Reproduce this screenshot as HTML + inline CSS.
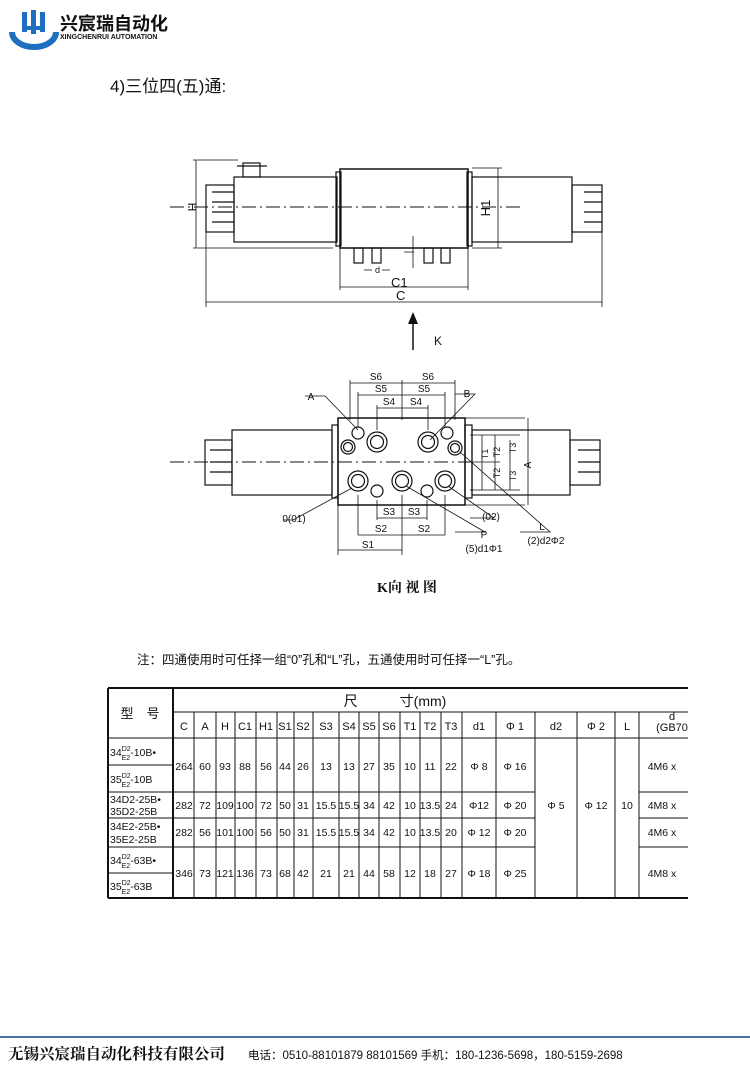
<!DOCTYPE html>
<html><head><meta charset="utf-8"><style>
html,body{margin:0;padding:0;background:#fff;}
svg{display:block;}
text{font-family:"Liberation Sans","Noto Sans CJK SC",sans-serif;fill:#111;}
</style></head><body>
<svg width="750" height="1085" viewBox="0 0 750 1085" xmlns="http://www.w3.org/2000/svg">
<g>
<path d="M12 32 A22 15 0 0 0 56 32" fill="none" stroke="#1f6fc0" stroke-width="6"/>
<rect x="22" y="12" width="5" height="20" fill="#1f6fc0"/>
<rect x="31" y="10" width="5" height="24" fill="#1f6fc0"/>
<rect x="40" y="12" width="5" height="20" fill="#1f6fc0"/>
<rect x="22" y="26" width="23" height="4" fill="#1f6fc0"/>
<text x="60" y="30" font-size="18" font-weight="bold" fill="#222">兴宸瑞自动化</text>
<text x="60" y="39" font-size="7" font-weight="bold" fill="#222">XINGCHENRUI AUTOMATION</text>
</g>
<text x="110" y="92" font-size="17">4)三位四(五)通:</text>

<g stroke="#111" fill="none" stroke-width="1.2">
<rect x="234" y="177" width="103" height="65"/>
<rect x="206" y="185" width="28" height="47"/>
<path d="M212 192h22M212 202h22M212 212h22M212 222h22"/>
<rect x="243" y="163" width="17" height="14"/>
<path d="M237 166h30"/>
<rect x="336" y="172" width="5" height="74"/>
<rect x="340" y="169" width="128" height="79" stroke-width="1.5"/>
<rect x="467" y="172" width="5" height="74"/>
<rect x="472" y="177" width="100" height="65"/>
<rect x="572" y="185" width="30" height="47"/>
<path d="M584 192h18M584 202h18M584 212h18M584 222h18"/>
<path d="M170 207h350" stroke-dasharray="14 4 2 4" stroke-width="0.9"/>
<rect x="354" y="248" width="9" height="15"/><rect x="372" y="248" width="9" height="15"/>
<rect x="424" y="248" width="9" height="15"/><rect x="441" y="248" width="9" height="15"/>
<path d="M413 236v32M404 252h10" stroke-width="0.8"/>
<path d="M340 248v42M468 248v42M340 287h128" stroke-width="0.8"/>
<path d="M206 232v75M602 232v75M206 302h396" stroke-width="0.8"/>
<path d="M196 160v88M193 160h45M193 248h140M472 168h30M472 248h30M498 168v80" stroke-width="0.8"/>
<path d="M364 270l8 0M390 270l-8 0" stroke-width="0.8"/>
<path d="M413 350v-30" stroke-width="1.5"/>
</g>
<polygon points="413,312 408,324 418,324" fill="#111"/>
<text x="375" y="273" font-size="9">d</text>
<text x="391" y="287" font-size="13">C1</text>
<text x="396" y="300" font-size="13">C</text>
<text x="188" y="207" font-size="12" transform="rotate(90 188 207)" text-anchor="middle">H</text>
<text x="490" y="208" font-size="13" transform="rotate(-90 490 208)" text-anchor="middle">H1</text>
<text x="434" y="345" font-size="12">K</text>

<g stroke="#111" fill="none" stroke-width="1.2">
<rect x="232" y="430" width="100" height="65"/>
<rect x="205" y="440" width="27" height="45"/>
<path d="M210 450h22M210 462h22M210 472h22"/>
<rect x="332" y="425" width="6" height="73"/>
<rect x="338" y="418" width="127" height="87" stroke-width="1.5"/>
<rect x="465" y="425" width="7" height="73"/>
<rect x="472" y="430" width="98" height="65"/>
<rect x="570" y="440" width="30" height="45"/>
<path d="M578 450h22M578 462h22M578 472h22"/>
<path d="M170 462h300" stroke-dasharray="14 4 2 4" stroke-width="0.9"/>
<circle cx="377" cy="442" r="10"/><circle cx="377" cy="442" r="6.5"/>
<circle cx="428" cy="442" r="10"/><circle cx="428" cy="442" r="6.5"/>
<circle cx="358" cy="481" r="10"/><circle cx="358" cy="481" r="6.5"/>
<circle cx="402" cy="481" r="10"/><circle cx="402" cy="481" r="6.5"/>
<circle cx="445" cy="481" r="10"/><circle cx="445" cy="481" r="6.5"/>
<circle cx="358" cy="433" r="6"/><circle cx="348" cy="447" r="7"/><circle cx="348" cy="447" r="4.5"/>
<circle cx="447" cy="433" r="6"/><circle cx="455" cy="448" r="7"/><circle cx="455" cy="448" r="4.5"/>
<circle cx="377" cy="491" r="6"/><circle cx="427" cy="491" r="6"/>
<g stroke-width="0.8">
<path d="M350 380v40M455 380v40M358 392v35M445 392v35M377 405v25M428 405v25M402 380v40"/>
<path d="M350 383h105M358 395h87M377 408h51"/>
<path d="M338 505v50M358 495v40M377 500v20M427 500v20M445 495v40M402 495v60"/>
<path d="M377 518h50M358 535h87M338 550h64"/>
<path d="M465 418h60M465 505h60M528 418v87M470 435h50M470 462h30M470 490h50M482 435v55M495 435v55M510 440v50"/>
<path d="M305 396h20L358 430M455 394h20L430 440M283 520h10L352 488M470 518h24L448 486M455 532h30L406 486M520 532h30L460 452"/>
</g>
</g>
<g font-size="10" text-anchor="middle">
<text x="376" y="380">S6</text><text x="428" y="380">S6</text>
<text x="381" y="392">S5</text><text x="424" y="392">S5</text>
<text x="389" y="405">S4</text><text x="416" y="405">S4</text>
<text x="389" y="515">S3</text><text x="414" y="515">S3</text>
<text x="381" y="532">S2</text><text x="424" y="532">S2</text>
<text x="368" y="548">S1</text>
<text x="311" y="400">A</text><text x="467" y="397">B</text>
<text x="294" y="522">0(01)</text><text x="491" y="520">(02)</text>
<text x="484" y="538">P</text><text x="484" y="552">(5)d1Φ1</text>
<text x="542" y="530">L</text><text x="546" y="544">(2)d2Φ2</text>
<text x="531" y="465" transform="rotate(-90 531 465)">A</text>
<text x="488" y="454" font-size="9" transform="rotate(-90 488 454)">T1</text>
<text x="500" y="452" font-size="9" transform="rotate(-90 500 452)">T2</text>
<text x="516" y="448" font-size="9" transform="rotate(-90 516 448)">T3</text>
<text x="500" y="473" font-size="9" transform="rotate(-90 500 473)">T2</text>
<text x="516" y="476" font-size="9" transform="rotate(-90 516 476)">T3</text>
</g>
<text x="407" y="592" font-size="14" font-weight="bold" text-anchor="middle" style="font-family:'Liberation Serif','Noto Serif CJK SC',serif">K向 视 图</text>
<text x="137" y="664" font-size="12.5">注：四通使用时可任择一组“0”孔和“L”孔，五通使用时可任择一“L”孔。</text>

<g stroke="#111" fill="none">
<path d="M108 688H688M108 898H688M108 688V898M173 688V898" stroke-width="2"/>
<path d="M173 712H688M108 738H688M108 792H535M108 818H535M108 847H535M639 792H688M639 818H688M639 847H688M108 765H173M108 873H173" stroke-width="1"/>
<path d="M194 712V898M216 712V898M235 712V898M256 712V898M277 712V898M294 712V898M313 712V898M339 712V898M359 712V898M379 712V898M400 712V898M420 712V898M441 712V898M462 712V898M496 712V898M535 712V898M577 712V898M615 712V898M639 712V898" stroke-width="1"/>
</g>
<g font-size="11" text-anchor="middle">
<text x="140" y="718" font-size="13">型　号</text>
<text x="395" y="706" font-size="14">尺　　　寸(mm)</text>
<text x="184" y="730">C</text><text x="205" y="730">A</text><text x="225" y="730">H</text><text x="245" y="730">C1</text><text x="266" y="730">H1</text><text x="285" y="730">S1</text><text x="303" y="730">S2</text><text x="326" y="730">S3</text><text x="349" y="730">S4</text><text x="369" y="730">S5</text><text x="389" y="730">S6</text><text x="410" y="730">T1</text><text x="430" y="730">T2</text><text x="451" y="730">T3</text><text x="479" y="730">d1</text><text x="515" y="730">Φ 1</text><text x="556" y="730">d2</text><text x="596" y="730">Φ 2</text><text x="627" y="730">L</text><text x="672" y="720">d</text><text x="672" y="731">(GB70</text>
</g>
<g font-size="10.5" text-anchor="middle">
<g transform="translate(0,770)"><text x="184">264</text><text x="205">60</text><text x="225">93</text><text x="245">88</text><text x="266">56</text><text x="285">44</text><text x="303">26</text><text x="326">13</text><text x="349">13</text><text x="369">27</text><text x="389">35</text><text x="410">10</text><text x="430">11</text><text x="451">22</text><text x="479">Φ 8</text><text x="515">Φ 16</text><text x="662">4M6 x</text></g>
<g transform="translate(0,809)"><text x="184">282</text><text x="205">72</text><text x="225">109</text><text x="245">100</text><text x="266">72</text><text x="285">50</text><text x="303">31</text><text x="326">15.5</text><text x="349">15.5</text><text x="369">34</text><text x="389">42</text><text x="410">10</text><text x="430">13.5</text><text x="451">24</text><text x="479">Φ12</text><text x="515">Φ 20</text><text x="662">4M8 x</text><text x="556">Φ 5</text><text x="596">Φ 12</text><text x="627">10</text></g>
<g transform="translate(0,836)"><text x="184">282</text><text x="205">56</text><text x="225">101</text><text x="245">100</text><text x="266">56</text><text x="285">50</text><text x="303">31</text><text x="326">15.5</text><text x="349">15.5</text><text x="369">34</text><text x="389">42</text><text x="410">10</text><text x="430">13.5</text><text x="451">20</text><text x="479">Φ 12</text><text x="515">Φ 20</text><text x="662">4M6 x</text></g>
<g transform="translate(0,877)"><text x="184">346</text><text x="205">73</text><text x="225">121</text><text x="245">136</text><text x="266">73</text><text x="285">68</text><text x="303">42</text><text x="326">21</text><text x="349">21</text><text x="369">44</text><text x="389">58</text><text x="410">12</text><text x="430">18</text><text x="451">27</text><text x="479">Φ 18</text><text x="515">Φ 25</text><text x="662">4M8 x</text></g>
</g>
<g font-size="10.5">
<text x="110" y="756">34<tspan font-size="7" dy="-5">D2</tspan><tspan font-size="7" dx="-9" dy="9">E2</tspan><tspan dy="-4">-10B•</tspan></text>
<text x="110" y="783">35<tspan font-size="7" dy="-5">D2</tspan><tspan font-size="7" dx="-9" dy="9">E2</tspan><tspan dy="-4">-10B</tspan></text>
<text x="110" y="803">34D2-25B•</text><text x="110" y="815">35D2-25B</text>
<text x="110" y="830">34E2-25B•</text><text x="110" y="843">35E2-25B</text>
<text x="110" y="864">34<tspan font-size="7" dy="-5">D2</tspan><tspan font-size="7" dx="-9" dy="9">E2</tspan><tspan dy="-4">-63B•</tspan></text>
<text x="110" y="890">35<tspan font-size="7" dy="-5">D2</tspan><tspan font-size="7" dx="-9" dy="9">E2</tspan><tspan dy="-4">-63B</tspan></text>
</g>

<rect x="0" y="1036" width="750" height="2" fill="#4a72a8"/>
<text x="8" y="1059" font-size="15.5" font-weight="bold" style="font-family:'Noto Serif CJK SC',serif">无锡兴宸瑞自动化科技有限公司</text>
<text x="248" y="1059" font-size="11.5">电话：0510-88101879 88101569 手机：180-1236-5698，180-5159-2698</text>
</svg>
</body></html>
